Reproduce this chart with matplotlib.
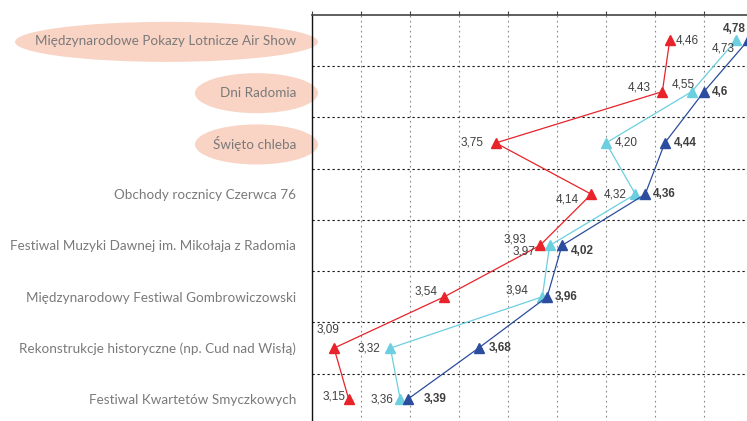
import numpy as np
import matplotlib
matplotlib.use("Agg")
import matplotlib.pyplot as plt
import matplotlib.patches as patches
import matplotlib.transforms as mtransforms

# Events, top to bottom
categories = [
    "Międzynarodowe Pokazy Lotnicze Air Show",
    "Dni Radomia",
    "Święto chleba",
    "Obchody rocznicy Czerwca 76",
    "Festiwal Muzyki Dawnej im. Mikołaja z Radomia",
    "Międzynarodowy Festiwal Gombrowiczowski",
    "Rekonstrukcje historyczne (np. Cud nad Wisłą)",
    "Festiwal Kwartetów Smyczkowych",
]
highlighted = [0, 1, 2]

red_values = [4.46, 4.43, 3.75, 4.14, 3.93, 3.54, 3.09, 3.15]
light_values = [4.73, 4.55, 4.20, 4.32, 3.97, 3.94, 3.32, 3.36]
dark_values = [4.78, 4.6, 4.44, 4.36, 4.02, 3.96, 3.68, 3.39]

red_labels = ["4,46", "4,43", "3,75", "4,14", "3,93", "3,54", "3,09", "3,15"]
light_labels = ["4,73", "4,55", "4,20", "4,32", "3,97", "3,94", "3,32", "3,36"]
dark_labels = ["4,78", "4,6", "4,44", "4,36", "4,02", "3,96", "3,68", "3,39"]

# label placement (pixel offsets from the marker, alignment)
red_pos = [(6, 0, "left"), (-12, 4, "right"), (-12, 0, "right"), (-12, -5, "right"),
           (-14, 6, "right"), (-7, 5, "right"), (-6, 19, "center"), (-3, 3, "right")]
light_pos = [(-1, -8, "right"), (3, 7, "right"), (9, 0, "left"), (-9, 0, "right"),
             (-14, -6, "right"), (-14, 6, "right"), (-10, 0, "right"), (-7, 0, "right")]
dark_pos = [(-14, 11, "center"), (8, 0, "left"), (9, 0, "left"), (8, 0, "left"),
            (9, -6, "left"), (8, 0, "left"), (10, 0, "left"), (16, 0, "left")]

RED = "#e8232a"
LIGHT = "#6ccfe0"
DARK = "#2b4c9f"
TXT = "#404040"

W, H = 747, 421
fig = plt.figure(figsize=(W / 100, H / 100), dpi=100)
# plot box: left edge at x=312px, top at y=14.7px, 245 px per 1.0 on x
ax = fig.add_axes([312 / W, 1 - 425 / H, 441 / W, (425 - 14.7) / H])
ax.patch.set_visible(False)

y = np.arange(len(categories))

for vals, col in [(red_values, RED), (light_values, LIGHT), (dark_values, DARK)]:
    ax.plot(vals, y, color=col, lw=0.9, marker="^", ms=7, mec=col, mfc=col, zorder=3)

for vals, labels, pos, bold in [(red_values, red_labels, red_pos, False),
                                 (light_values, light_labels, light_pos, False),
                                 (dark_values, dark_labels, dark_pos, True)]:
    for v, yi, lab, (dx, dy, ha) in zip(vals, y, labels, pos):
        ax.annotate(lab, (v, yi), xytext=(dx, dy), textcoords="offset pixels",
                    ha=ha, va="center", fontsize=8.5, color=TXT,
                    family="Liberation Sans", fontweight="bold" if bold else "normal",
                    zorder=4, annotation_clip=False)

ax.set_xlim(3.0, 4.8)
ax.set_ylim(len(categories) - 0.5, -0.5)

ax.set_xticks(np.arange(3.0, 4.81, 0.2))
ax.xaxis.tick_top()
ax.tick_params(axis="x", length=3, width=0.8, color="#444444", labeltop=False, labelbottom=False)

ax.set_yticks(y)
ax.set_yticklabels(categories, family="Lato", fontsize=9.7, color="#7a7a7a")
ax.tick_params(axis="y", length=0, pad=11.5)
ax.set_yticks(np.arange(0.5, len(categories) - 1, 1), minor=True)
ax.tick_params(axis="y", which="minor", length=0)

ax.grid(axis="x", which="major", color="#888888", linestyle=(0, (1.5, 3)), lw=0.8)
ax.grid(axis="y", which="minor", color="#111111", linestyle=(0, (2, 2.5)), lw=0.8)
ax.set_axisbelow(True)

for s in ["right", "bottom"]:
    ax.spines[s].set_visible(False)
ax.spines["top"].set_color("#444444")
ax.spines["top"].set_linewidth(1.2)
ax.spines["left"].set_color("#111111")
ax.spines["left"].set_linewidth(1.0)

# salmon highlight ellipses behind selected labels
trans = mtransforms.blended_transform_factory(fig.transFigure, ax.transData)
for i in highlighted:
    x_left = 15 if len(categories[i]) > 20 else 195
    cx = (x_left + 318) / 2 / W
    width = (318 - x_left) / W
    ell = patches.Ellipse((cx, i + 0.03), width, 0.78, transform=trans,
                          facecolor="#f9d3c3", edgecolor="none", zorder=-1)
    fig.add_artist(ell)

fig.savefig("out.png", dpi=100)
